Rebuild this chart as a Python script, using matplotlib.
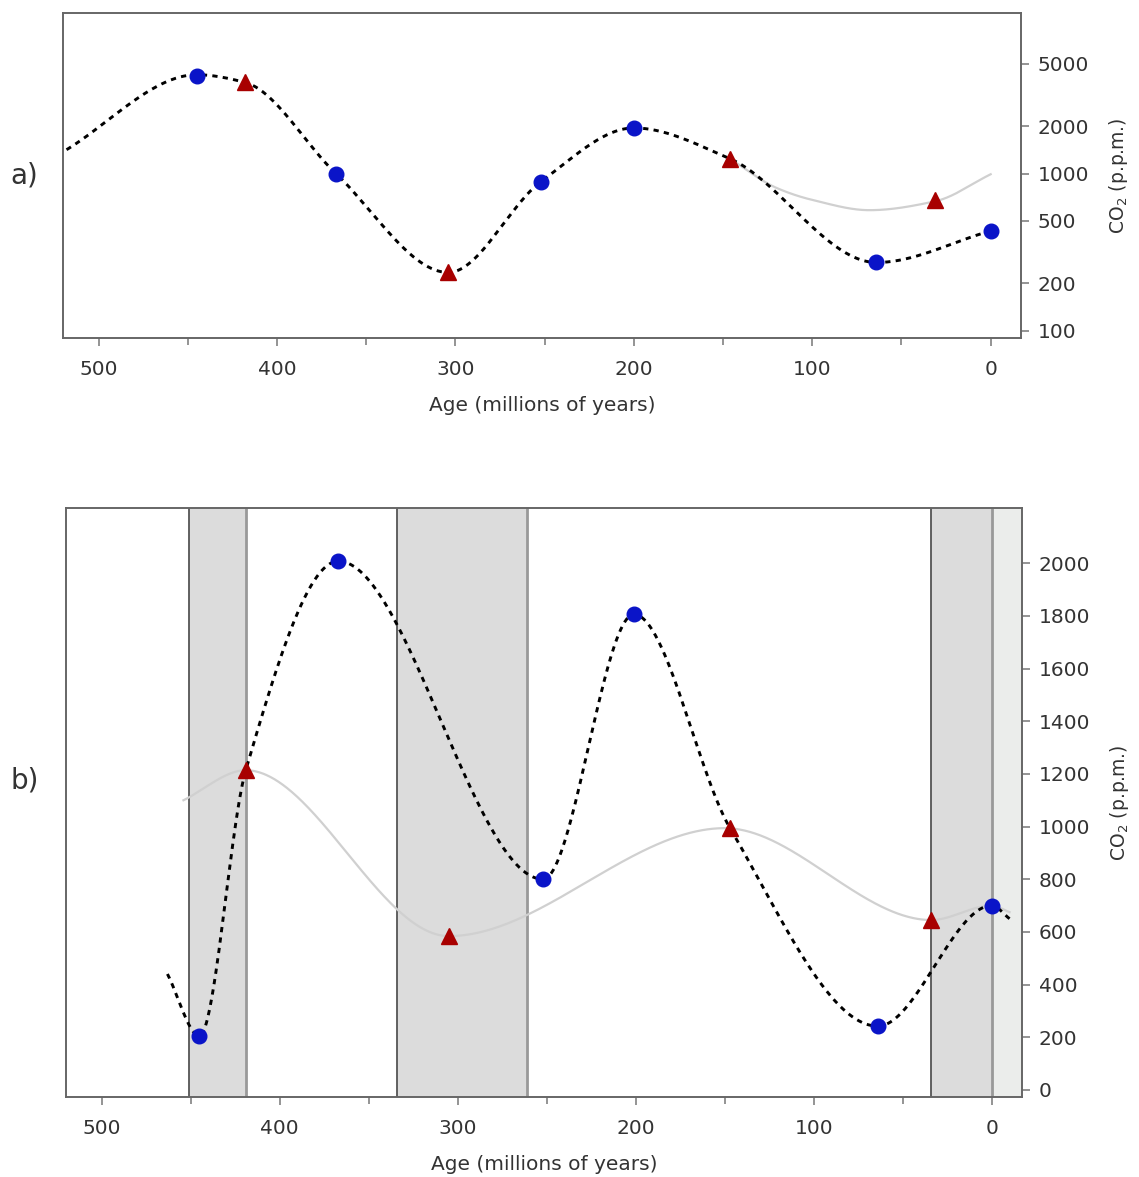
import numpy as np
import matplotlib
matplotlib.use("Agg")
import matplotlib.pyplot as plt
from matplotlib.ticker import FixedLocator, NullLocator, MultipleLocator

# panel a) -- log scale
A_AGE_BLUE = [445, 367, 252, 200, 64, 0]
A_CO2_BLUE = [4200, 1000, 890, 1950, 272, 432]
A_AGE_RED = [418, 304, 146, 31]
A_CO2_RED = [3800, 235, 1240, 676]
A_DASH_AGE = [520, 445, 418, 367, 304, 252, 200, 146, 64, 0]
A_DASH_CO2 = [1375, 4250, 3800, 1000, 235, 890, 1950, 1240, 272, 432]
A_GREY_AGE = [146, 120, 100, 68, 31, 0]
A_GREY_CO2 = [1240, 810, 680, 585, 667, 990]
A_YTICKS = [100, 200, 500, 1000, 2000, 5000]

# panel b) -- linear scale
B_AGE_BLUE = [445, 367, 252, 201, 64, 0]
B_CO2_BLUE = [205, 2008, 800, 1806, 242, 700]
B_AGE_RED = [419, 305, 147, 34]
B_CO2_RED = [1214, 584, 994, 645]
B_DASH_AGE = [463, 445, 419, 367, 252, 201, 147, 64, 0, -10]
B_DASH_CO2 = [440, 205, 1214, 2008, 800, 1806, 994, 242, 700, 650]
B_GREY_AGE = [454, 419, 305, 150, 34, 0, -10]
B_GREY_CO2 = [1100, 1214, 584, 994, 645, 700, 675]
B_BANDS = [(451, 419), (334, 261), (34, 0)]
B_YTICKS = list(range(0, 2001, 200))

XLIM = (520, -17)


def pchip(xk, yk, xs):
    # monotone cubic through the knots, extremes stay on the knots
    order = np.argsort(xk)
    x = np.asarray(xk, float)[order]
    y = np.asarray(yk, float)[order]
    h = np.diff(x)
    d = np.diff(y) / h
    n = len(x)
    m = np.zeros(n)
    for i in range(1, n - 1):
        if d[i - 1] * d[i] > 0:
            w1 = 2 * h[i] + h[i - 1]
            w2 = h[i] + 2 * h[i - 1]
            m[i] = (w1 + w2) / (w1 / d[i - 1] + w2 / d[i])
    m[0] = d[0]
    m[-1] = d[-1]
    k = np.clip(np.searchsorted(x, xs) - 1, 0, n - 2)
    t = (xs - x[k]) / h[k]
    h00 = 2 * t ** 3 - 3 * t ** 2 + 1
    h10 = t ** 3 - 2 * t ** 2 + t
    h01 = -2 * t ** 3 + 3 * t ** 2
    h11 = t ** 3 - t ** 2
    return h00 * y[k] + h10 * h[k] * m[k] + h01 * y[k + 1] + h11 * h[k] * m[k + 1]


def curve(ages, vals, log=False):
    xs = np.linspace(min(ages), max(ages), 800)
    if log:
        return xs, 10 ** pchip(ages, np.log10(vals), xs)
    return xs, pchip(ages, vals, xs)


def style(ax):
    ax.set_xlim(*XLIM)
    ax.xaxis.set_major_locator(MultipleLocator(100))
    ax.xaxis.set_minor_locator(FixedLocator([450, 350, 250, 150, 50]))
    ax.yaxis.tick_right()
    ax.yaxis.set_label_position("right")
    for s in ax.spines.values():
        s.set_color("#666666")
        s.set_linewidth(1.4)
    ax.tick_params(axis="both", which="major", length=6, width=1.1,
                   color="#777777", labelcolor="#333333", labelsize=14.5, pad=6)
    ax.tick_params(axis="x", which="major", pad=10)
    ax.tick_params(axis="x", which="minor", length=5, width=1.1, color="#777777")
    ax.set_xlabel("Age (millions of years)", fontsize=14.5, color="#333333", labelpad=12)
    ax.set_ylabel("CO$_2$ (p.p.m.)", fontsize=13.5, color="#333333", labelpad=13)


DASH = dict(color="black", lw=2.1, linestyle=(0, (1.8, 1.8)), zorder=3)
GREY = dict(color="#d0d0d0", lw=1.6, zorder=2)
BLUE = dict(marker="o", ms=10.5, color="#0a14c8", ls="none", zorder=5)
RED = dict(marker="^", ms=12, color="#a80000", ls="none", zorder=5)

fig = plt.figure(figsize=(11.39, 11.77), dpi=100)

# a)
ax1 = fig.add_axes([0.0553, 0.7128, 0.8411, 0.2762])
ax1.set_yscale("log")
ax1.set_ylim(90, 10500)
ax1.plot(*curve(A_GREY_AGE, A_GREY_CO2, log=True), **GREY)
ax1.plot(*curve(A_DASH_AGE, A_DASH_CO2, log=True), **DASH)
ax1.plot(A_AGE_BLUE, A_CO2_BLUE, **BLUE)
ax1.plot(A_AGE_RED, A_CO2_RED, **RED)
ax1.yaxis.set_major_locator(FixedLocator(A_YTICKS))
ax1.yaxis.set_minor_locator(NullLocator())
ax1.set_yticklabels([str(v) for v in A_YTICKS])
style(ax1)
fig.text(0.009, 0.851, "a)", fontsize=20, color="#333333", va="center")

# b)
ax2 = fig.add_axes([0.0579, 0.068, 0.8394, 0.5004])
ax2.set_ylim(-27, 2210)
for lo, hi in B_BANDS:
    ax2.axvspan(hi, lo, color="#dcdcdc", zorder=0, lw=0)
    ax2.axvline(lo, color="#555555", lw=1.3, zorder=1)
    ax2.axvline(hi, color="#999999", lw=2.0, zorder=1)
ax2.axvspan(XLIM[1], 0, color="#ebedeb", zorder=0, lw=0)
ax2.plot(*curve(B_GREY_AGE, B_GREY_CO2), **GREY)
ax2.plot(*curve(B_DASH_AGE, B_DASH_CO2), **DASH)
ax2.plot(B_AGE_BLUE, B_CO2_BLUE, **BLUE)
ax2.plot(B_AGE_RED, B_CO2_RED, **RED)
ax2.yaxis.set_major_locator(FixedLocator(B_YTICKS))
style(ax2)
fig.text(0.009, 0.337, "b)", fontsize=20, color="#333333", va="center")

fig.savefig("out.png", dpi=100)
